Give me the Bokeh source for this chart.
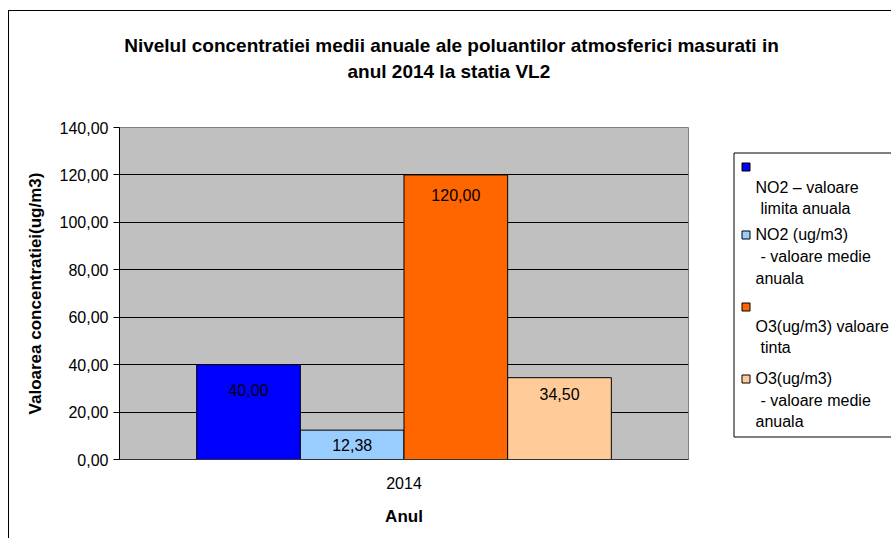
from bokeh.plotting import figure
from bokeh.layouts import column, row
from bokeh.models import (ColumnDataSource, Range1d, FactorRange, FixedTicker,
                          CustomJSTickFormatter)
from bokeh.transform import dodge
from bokeh.embed import file_html
from bokeh.resources import INLINE
from bokeh.core.properties import value

# ---- data ----
years = ["2014"]
series_names = ["NO2 – valoare limita anuala", "NO2 (ug/m3) - valoare medie anuala",
                "O3(ug/m3) valoare tinta", "O3(ug/m3) - valoare medie anuala"]
no2_limit = [40.00]
no2_mean = [12.38]
o3_target = [120.00]
o3_mean = [34.50]
y_ticks = [0, 20, 40, 60, 80, 100, 120, 140]
title_lines = ["Nivelul concentratiei medii anuale ale poluantilor atmosferici masurati in",
               "anul 2014  la statia VL2"]
legend_lines = [["NO2 – valoare", "limita anuala"],
                ["NO2 (ug/m3)", "- valoare medie", "anuala"],
                ["O3(ug/m3) valoare", "tinta"],
                ["O3(ug/m3)", "- valoare medie", "anuala"]]

# ---- styles / layout (page pixels) ----
colors = ["#0000FF", "#99CCFF", "#FF6600", "#FFCC99"]
dodges = [-0.2733, -0.0911, 0.0911, 0.2733]
bar_w = 0.1822
label_offsets = [25, 15, 20, 16]
FONT = "Liberation Sans"

PX0, PY0 = 9, 11                 # page position of the layout's top-left
PAGE_W, PAGE_H = 891, 538
PA_L, PA_R, PA_T, PA_B = 119, 688, 127, 459   # plot area on the page
TITLE_B = 111                    # bottom of title strip
SPLIT_X = 700                    # left edge of legend strip


def blank(x0, x1, y0, y1, fy0, fy1):
    f = figure(width=x1 - x0, height=y1 - y0, x_range=Range1d(x0, x1),
               y_range=Range1d(fy1, fy0), output_backend="svg", toolbar_location=None,
               x_axis_location=None, y_axis_location=None,
               min_border=0, min_border_left=0, min_border_right=0,
               min_border_top=fy0 - y0, min_border_bottom=y1 - fy1)
    f.background_fill_color = "white"
    f.border_fill_color = "white"
    f.outline_line_color = None
    f.xgrid.visible = False
    f.ygrid.visible = False
    return f


# ---- title strip ----
pt = blank(PX0, PAGE_W, PY0, TITLE_B, PY0, TITLE_B)
pt.text(x=[451, 451], y=[45, 71], text=title_lines,
        text_align="center", text_baseline="middle", text_font=value(FONT),
        text_font_size="19px", text_font_style="bold", text_color="black")

# ---- main chart ----
p = figure(width=SPLIT_X - PX0, height=PAGE_H - TITLE_B,
           x_range=FactorRange(factors=years, range_padding=0),
           y_range=Range1d(0, y_ticks[-1]), output_backend="svg", toolbar_location=None,
           min_border_left=PA_L - PX0, min_border_right=SPLIT_X - PA_R,
           min_border_top=PA_T - TITLE_B, min_border_bottom=PAGE_H - PA_B)
p.background_fill_color = "#C0C0C0"
p.border_fill_color = "white"
p.outline_line_color = "#808080"
p.outline_line_width = 1


def fmt(v):
    return f"{v:.2f}".replace(".", ",")


series_vals = [no2_limit, no2_mean, o3_target, o3_mean]
for vals, col, dg, off in zip(series_vals, colors, dodges, label_offsets):
    src = ColumnDataSource(dict(year=years, v=vals, lbl=[fmt(v) for v in vals]))
    p.vbar(x=dodge("year", dg, range=p.x_range), top="v", width=bar_w, source=src,
           fill_color=col, line_color="black", line_width=1)
    p.text(x=dodge("year", dg, range=p.x_range), y="v", text="lbl", source=src,
           y_offset=off, text_align="center", text_baseline="middle",
           text_font=value(FONT), text_font_size="16px", text_color="black")

p.yaxis.ticker = FixedTicker(ticks=y_ticks)
p.yaxis.formatter = CustomJSTickFormatter(code="return tick.toFixed(2).replace('.', ',');")
p.yaxis.axis_label = "Valoarea concentratiei(ug/m3)"
p.yaxis.major_tick_out = 6
p.yaxis.major_tick_in = 0
p.yaxis.minor_tick_out = 0
p.yaxis.minor_tick_in = 0
p.yaxis.major_label_standoff = 5
p.yaxis.axis_label_standoff = 12
p.yaxis.axis_line_color = "black"
p.yaxis.major_tick_line_color = "black"

p.xaxis.axis_label = "Anul"
p.xaxis.major_tick_out = 0
p.xaxis.major_tick_in = 0
p.xaxis.major_label_standoff = 17
p.xaxis.axis_label_standoff = 15
p.xaxis.axis_line_color = "#333333"

for ax in (p.xaxis, p.yaxis):
    ax.major_label_text_font = FONT
    ax.major_label_text_font_size = "16px"
    ax.major_label_text_color = "black"
    ax.axis_label_text_font = FONT
    ax.axis_label_text_font_size = "17px"
    ax.axis_label_text_font_style = "bold"
    ax.axis_label_text_color = "black"

p.ygrid.ticker = FixedTicker(ticks=[t for t in y_ticks if 0 < t < y_ticks[-1]])
p.ygrid.grid_line_color = "black"
p.ygrid.grid_line_width = 1
p.xgrid.grid_line_color = None

# ---- legend strip (frame aligned with the plot area rows) ----
pl = blank(SPLIT_X, PAGE_W, TITLE_B, PAGE_H, PA_T, PA_B)
pl.quad(left=[733.5], right=[1000], top=[152.5], bottom=[436.5],
        fill_color="white", line_color="black", line_width=1)
square_tops = [162, 230, 302, 374]
line_ys = [[187, 208], [234, 256, 278], [326, 347], [378, 400, 421]]
indents = [[0, 5], [0, 5, 0], [0, 5], [0, 5, 0]]
for col, top, lines, ys, ind in zip(colors, square_tops, legend_lines, line_ys, indents):
    pl.quad(left=[741.5], right=[749.5], top=[top + 0.5], bottom=[top + 8.5],
            fill_color=col, line_color="black", line_width=1)
    pl.text(x=[755 + d for d in ind], y=ys, text=lines,
            text_align="left", text_baseline="middle", text_font=value(FONT),
            text_font_size="16px", text_color="black")

layout = column(pt, row(p, pl, spacing=0), spacing=0,
                styles={"margin-left": "8px", "margin-top": "10px",
                        "border-left": "1px solid black", "border-top": "1px solid black"})

open("out.html", "w").write(file_html(layout, INLINE))
